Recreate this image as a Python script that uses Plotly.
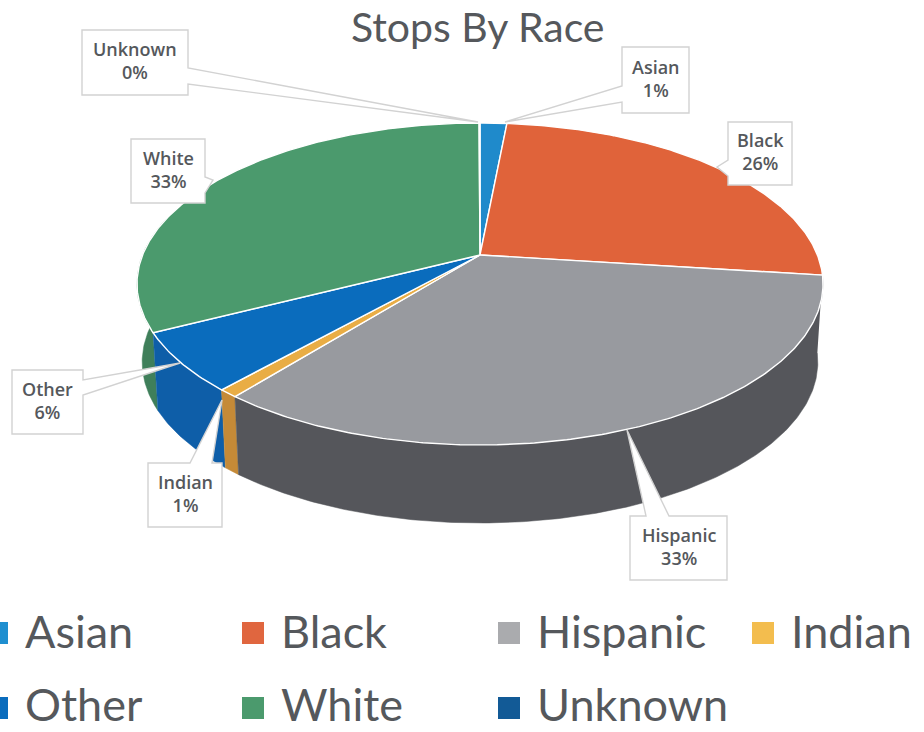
import numpy as np
import plotly.graph_objects as go

# ---- data ----
categories = ["Asian", "Black", "Hispanic", "Indian", "Other", "White", "Unknown"]
values = [1.5, 25.5, 33.7, 0.8, 5.9, 32.5, 0.05]
percent_labels = ["1%", "26%", "33%", "1%", "6%", "33%", "0%"]
top_colors = ["#1f8acb", "#e0633a", "#989a9f", "#e9ad45", "#0a6cbd", "#4b9a6d", "#125a96"]
side_colors = ["#176a9e", "#b04c2c", "#55565b", "#c58a37", "#0e5ea8", "#3f7f5a", "#0e4a7c"]
legend_colors = ["#1f8fd0", "#e0663f", "#aaabae", "#f3bd4e", "#0a6cbd", "#4b9a6d", "#125a96"]
title_text = "Stops By Race"

# ---- projection of the tilted disc onto the page ----
CX, CY, RX, RY, K = 480.0, 255.0, 337.4, 155.8, 0.18
DEPTH, BOTTOM_SCALE = 78.0, 0.985


def rim(theta):
    u, v = np.sin(theta), np.cos(theta)
    w = 1 + K * v
    return CX + RX * u / w, CY - RY * v / w


def rim_low(theta):
    x, y = rim(theta)
    return CX + (x - CX) * BOTTOM_SCALE, y + DEPTH


def arc(a, b):
    return np.linspace(a, b, max(int(abs(b - a) / 0.01), 2))


ends = np.cumsum(values) / np.sum(values) * 2 * np.pi
starts = np.concatenate([[0.0], ends[:-1]])

fig = go.Figure()

# sides (visible front portion only)
LEFT_LIMIT = np.deg2rad(285)
RIGHT_LIMIT = np.deg2rad(85)
for i in [5, 4, 3, 2]:
    a, b = max(starts[i], RIGHT_LIMIT), min(ends[i], LEFT_LIMIT)
    t = arc(a, b)
    xt, yt = rim(t)
    xb, yb = rim_low(t[::-1])
    fig.add_trace(go.Scatter(
        x=np.concatenate([xt, xb]), y=np.concatenate([yt, yb]),
        mode="lines", fill="toself", fillcolor=side_colors[i],
        line=dict(color=side_colors[i], width=0.5),
        hoverinfo="skip", showlegend=False))

# top faces
for i, name in enumerate(categories):
    t = arc(starts[i], ends[i])
    xt, yt = rim(t)
    fig.add_trace(go.Scatter(
        x=np.concatenate([[CX], xt, [CX]]), y=np.concatenate([[CY], yt, [CY]]),
        mode="lines", fill="toself", fillcolor=top_colors[i],
        line=dict(color="#ffffff", width=1.4),
        name=name, hoverinfo="name", showlegend=False))

# callouts: label box plus a pointer to the slice
CALLOUT_BOX = {
    "Asian": (622, 47, 689, 113), "Black": (728, 122, 792, 185),
    "Hispanic": (630, 516, 727, 580), "Indian": (148, 463, 222, 527),
    "Other": (12, 370, 83, 434), "White": (131, 139, 205, 203),
    "Unknown": (82, 30, 188, 95),
}
CALLOUT_POINTER = {
    "Asian": ("left", 86, 102, 505, 122), "Black": ("left", 160, 176, 717, 167),
    "Hispanic": ("top", 646, 669, 627, 430), "Indian": ("top", 190, 212, 222, 400),
    "Other": ("right", 380, 395, 180, 363), "White": ("right", 177, 193, 213, 180),
    "Unknown": ("right", 68, 84, 478, 122),
}
shapes, annotations = [], []
for name, pct in zip(categories, percent_labels):
    x0, y0, x1, y1 = CALLOUT_BOX[name]
    side, p, q, tx, ty = CALLOUT_POINTER[name]
    if side == "left":
        path = f"M{x0},{y0} L{x1},{y0} L{x1},{y1} L{x0},{y1} L{x0},{q} L{tx},{ty} L{x0},{p} Z"
    elif side == "right":
        path = f"M{x0},{y0} L{x1},{y0} L{x1},{p} L{tx},{ty} L{x1},{q} L{x1},{y1} L{x0},{y1} Z"
    else:
        path = f"M{x0},{y0} L{p},{y0} L{tx},{ty} L{q},{y0} L{x1},{y0} L{x1},{y1} L{x0},{y1} Z"
    shapes.append(dict(type="path", path=path, fillcolor="#ffffff",
                       line=dict(color="#d2d2d2", width=1.4), layer="above"))
    annotations.append(dict(x=(x0 + x1) / 2, y=(y0 + y1) / 2 - 2, text=f"{name}<br>{pct}",
                            showarrow=False, xanchor="center", yanchor="middle",
                            font=dict(family="Open Sans", size=18, weight=600, color="#55585c")))

# legend rows
LEGEND_X = [-3, 253, 509, 763, -3, 253, 509]
LEGEND_Y = [633, 633, 633, 633, 708, 708, 708]
LEGEND_TEXT_Y = [631, 631, 631, 631, 704, 704, 704]
fig.add_trace(go.Scatter(
    x=LEGEND_X, y=LEGEND_Y, mode="markers",
    marker=dict(symbol="square", size=22, color=legend_colors, line=dict(width=0)),
    hoverinfo="skip", showlegend=False))
for lx, ly, name in zip(LEGEND_X, LEGEND_TEXT_Y, categories):
    annotations.append(dict(x=lx + 26, y=ly, text=name, showarrow=False,
                            xanchor="left", yanchor="middle",
                            font=dict(family="Lato", size=45, color="#55585c")))

fig.update_layout(
    width=924, height=732, margin=dict(l=0, r=0, t=0, b=0),
    paper_bgcolor="#ffffff", plot_bgcolor="#ffffff", showlegend=False,
    title=dict(text=title_text, x=0.517, xanchor="center", y=0.962, yanchor="middle",
               font=dict(family="Lato", size=41, color="#55585c")),
    xaxis=dict(range=[0, 924], visible=False, fixedrange=True),
    yaxis=dict(range=[732, 0], visible=False, fixedrange=True),
    shapes=shapes, annotations=annotations)

fig.write_html("out.html", config={"displayModeBar": False},
               post_script="document.body.style.margin='0';")
